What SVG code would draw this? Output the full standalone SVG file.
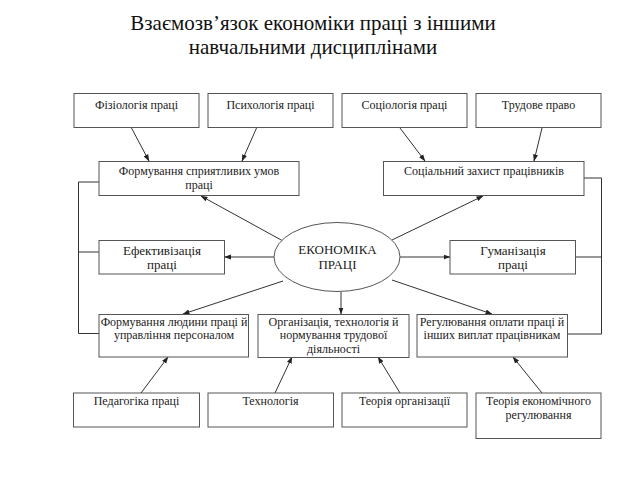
<svg xmlns="http://www.w3.org/2000/svg" width="640" height="480" viewBox="0 0 640 480">
<defs>
<style>
.box{fill:#fff;stroke:#555;stroke-width:1}
.t{font-family:"Liberation Serif","Times New Roman",serif;font-size:12px;fill:#222;text-anchor:middle}
.t13{font-size:13px}
.title{font-family:"Liberation Serif","Times New Roman",serif;font-size:21px;fill:#111;text-anchor:middle}
.c{fill:none;stroke:#333;stroke-width:1}
.a{marker-end:url(#ah)}
</style>
<marker id="ah" markerWidth="7" markerHeight="6" refX="6.5" refY="3" orient="auto" markerUnits="userSpaceOnUse">
<path d="M0,0.5 L7,3 L0,5.5 Z" fill="#222"/>
</marker>
</defs>
<rect width="640" height="480" fill="#fff"/>
<text class="title" x="313" y="30">Взаємозв’язок економіки праці з іншими</text>
<text class="title" x="313" y="54">навчальними дисциплінами</text>

<g id="connectors">
<line class="c a" x1="131.5" y1="128" x2="149" y2="161"/>
<line class="c a" x1="256.5" y1="128" x2="242" y2="161"/>
<line class="c a" x1="400" y1="128" x2="425" y2="161"/>
<line class="c a" x1="542" y1="128" x2="534" y2="161"/>
<line class="c a" x1="283" y1="241" x2="201" y2="196"/>
<line class="c a" x1="392" y1="240" x2="483" y2="196"/>
<line class="c a" x1="274" y1="257" x2="224.5" y2="257"/>
<line class="c a" x1="400" y1="257" x2="450" y2="257"/>
<line class="c a" x1="283" y1="281" x2="183" y2="314"/>
<line class="c a" x1="341" y1="292" x2="341" y2="314"/>
<line class="c a" x1="392" y1="280" x2="492" y2="314"/>
<line class="c a" x1="141" y1="393" x2="168" y2="357"/>
<line class="c a" x1="275" y1="393" x2="292" y2="357"/>
<line class="c a" x1="400" y1="393" x2="378" y2="357"/>
<line class="c a" x1="542" y1="393" x2="513" y2="357"/>
<polyline class="c" points="99,182 78.5,182 78.5,333.5 99,333.5"/>
<line class="c" x1="78.5" y1="252" x2="99" y2="252"/>
<polyline class="c" points="584,178 601.5,178 601.5,334 567,334"/>
<line class="c" x1="575.5" y1="257" x2="601.5" y2="257"/>
</g>

<g id="n-fiziol"><rect class="box" x="74" y="93.5" width="125" height="34"/><text class="t" x="136.5" y="109">Фізіологія праці</text></g>
<g id="n-psych"><rect class="box" x="208" y="93.5" width="125" height="34"/><text class="t" x="270.5" y="109">Психологія праці</text></g>
<g id="n-sociol"><rect class="box" x="342" y="93.5" width="125" height="34"/><text class="t" x="404.5" y="109">Соціологія праці</text></g>
<g id="n-pravo"><rect class="box" x="476" y="93.5" width="125" height="34"/><text class="t" x="538.5" y="109">Трудове право</text></g>

<g id="n-formuv-umov"><rect class="box" x="99" y="161.5" width="200" height="34"/><text class="t" x="199" y="174.5">Формування сприятливих умов</text><text class="t" x="199" y="188.5">праці</text></g>
<g id="n-zahyst"><rect class="box" x="383.5" y="161.5" width="200.5" height="34"/><text class="t" x="484" y="175">Соціальний захист працівників</text></g>

<g id="n-efekt"><rect class="box" x="99" y="240.5" width="125.5" height="33.5"/><text class="t t13" x="162" y="255">Ефективізація</text><text class="t t13" x="162" y="268.5">праці</text></g>
<g id="n-ekon"><ellipse class="box" cx="337" cy="257" rx="63" ry="34.5"/><text class="t t13" x="337.5" y="254">ЕКОНОМІКА</text><text class="t t13" x="337.5" y="268.5">ПРАЦІ</text></g>
<g id="n-human"><rect class="box" x="450" y="240.5" width="125.5" height="33.5"/><text class="t t13" x="513" y="255">Гуманізація</text><text class="t t13" x="513" y="268.5">праці</text></g>

<g id="n-formuv-lud"><rect class="box" x="99" y="314.5" width="149.5" height="42.5"/><text class="t" x="174" y="325.5">Формування людини праці й</text><text class="t" x="174" y="339">управління персоналом</text></g>
<g id="n-organiz"><rect class="box" x="258" y="314.5" width="151" height="43"/><text class="t" x="333.5" y="325.5">Організація, технологія й</text><text class="t" x="333.5" y="339">нормування трудової</text><text class="t" x="333.5" y="352.5">діяльності</text></g>
<g id="n-regul"><rect class="box" x="417" y="314.5" width="150.5" height="42.5"/><text class="t" x="492" y="325.5">Регулювання оплати праці й</text><text class="t" x="492" y="339">інших виплат працівникам</text></g>

<g id="n-pedag"><rect class="box" x="73.5" y="393" width="126" height="34"/><text class="t" x="136.5" y="405">Педагогіка праці</text></g>
<g id="n-tehn"><rect class="box" x="208" y="393" width="125.5" height="34"/><text class="t" x="270.5" y="405">Технологія</text></g>
<g id="n-teor-org"><rect class="box" x="342" y="393" width="125" height="34"/><text class="t" x="404.5" y="405">Теорія організації</text></g>
<g id="n-teor-ekon"><rect class="box" x="476" y="393" width="125" height="45.5"/><text class="t" x="538.5" y="404.5">Теорія економічного</text><text class="t" x="538.5" y="418.5">регулювання</text></g>
</svg>
